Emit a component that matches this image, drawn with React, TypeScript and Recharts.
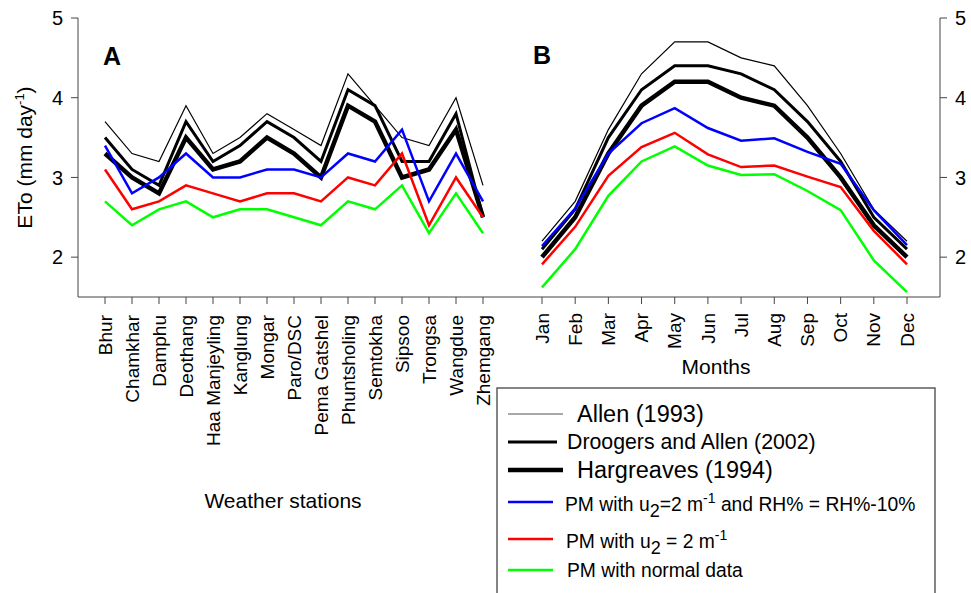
import React from 'react';
import { LineChart, Line, XAxis, YAxis } from 'recharts';

// Panel A - weather stations
const stations = [
    'Bhur', 'Chamkhar', 'Damphu', 'Deothang', 'Haa Manjeyling', 'Kanglung', 'Mongar', 'Paro/DSC',
    'Pema Gatshel', 'Phuntsholing', 'Semtokha', 'Sipsoo', 'Trongsa', 'Wangdue', 'Zhemgang'
];
const allenA = [3.7, 3.3, 3.2, 3.9, 3.3, 3.5, 3.8, 3.6, 3.4, 4.3, 3.9, 3.5, 3.4, 4.0, 2.9];
const droogersA = [3.5, 3.1, 2.9, 3.7, 3.2, 3.4, 3.7, 3.5, 3.2, 4.1, 3.9, 3.2, 3.2, 3.8, 2.5];
const hargreavesA = [3.3, 3.0, 2.8, 3.5, 3.1, 3.2, 3.5, 3.3, 3.0, 3.9, 3.7, 3.0, 3.1, 3.6, 2.5];
const pmRhA = [3.4, 2.8, 3.0, 3.3, 3.0, 3.0, 3.1, 3.1, 3.0, 3.3, 3.2, 3.6, 2.7, 3.3, 2.7];
const pmU2A = [3.1, 2.6, 2.7, 2.9, 2.8, 2.7, 2.8, 2.8, 2.7, 3.0, 2.9, 3.3, 2.4, 3.0, 2.5];
const pmNormalA = [2.7, 2.4, 2.6, 2.7, 2.5, 2.6, 2.6, 2.5, 2.4, 2.7, 2.6, 2.9, 2.3, 2.8, 2.3];

// Panel B - months
const months = ['Jan', 'Feb', 'Mar', 'Apr', 'May', 'Jun', 'Jul', 'Aug', 'Sep', 'Oct', 'Nov', 'Dec'];
const allenB = [2.2, 2.7, 3.6, 4.3, 4.7, 4.7, 4.5, 4.4, 3.9, 3.3, 2.6, 2.2];
const droogersB = [2.1, 2.6, 3.5, 4.1, 4.4, 4.4, 4.3, 4.1, 3.7, 3.2, 2.5, 2.1];
const hargreavesB = [2.0, 2.5, 3.3, 3.9, 4.2, 4.2, 4.0, 3.9, 3.5, 3.0, 2.4, 2.0];
const pmRhB = [2.14, 2.61, 3.3, 3.68, 3.87, 3.62, 3.46, 3.49, 3.32, 3.17, 2.59, 2.15];
const pmU2B = [1.91, 2.38, 3.02, 3.38, 3.56, 3.29, 3.13, 3.15, 3.01, 2.88, 2.33, 1.91];
const pmNormalB = [1.62, 2.1, 2.77, 3.2, 3.39, 3.15, 3.03, 3.04, 2.83, 2.59, 1.96, 1.56];

const yTicks = [2, 3, 4, 5];
const yDomain = [1.5, 5];

const series = [
    { key: 'allen', stroke: '#000000', width: 1.2 },
    { key: 'droogers', stroke: '#000000', width: 3 },
    { key: 'hargreaves', stroke: '#000000', width: 4.5 },
    { key: 'pmNormal', stroke: '#00ff00', width: 2.5 },
    { key: 'pmU2', stroke: '#ff0000', width: 2.5 },
    { key: 'pmRh', stroke: '#0000ff', width: 2.5 },
];

const dataA = stations.map((s, i) => ({
    name: s,
    allen: allenA[i],
    droogers: droogersA[i],
    hargreaves: hargreavesA[i],
    pmRh: pmRhA[i],
    pmU2: pmU2A[i],
    pmNormal: pmNormalA[i],
}));

const dataB = months.map((m, i) => ({
    name: m,
    allen: allenB[i],
    droogers: droogersB[i],
    hargreaves: hargreavesB[i],
    pmRh: pmRhB[i],
    pmU2: pmU2B[i],
    pmNormal: pmNormalB[i],
}));

const FONT = 'Arial, "Liberation Sans", sans-serif';
const AXIS = '#444';

const RotatedTick = ({ x, y, payload }: any) => (
    <text
        transform={`translate(${x},${y}) rotate(-90)`}
        textAnchor="end"
        dy="0.35em"
        fontSize={19}
        fontFamily={FONT}
        fill="#000"
    >
        {payload.value}
    </text>
);

const YLabel = ({ viewBox }: any) => {
    const cy = viewBox.y + viewBox.height / 2;
    return (
        <text
            transform={`translate(${viewBox.x + 32},${cy}) rotate(-90)`}
            textAnchor="middle"
            fontSize={21}
            fontFamily={FONT}
            fill="#000"
        >
            ETo (mm day<tspan dy={-8} fontSize={13}>-1</tspan><tspan dy={8}>)</tspan>
        </text>
    );
};

const XTitle = (text: string, dx: number) => ({ viewBox }: any) => (
    <text
        x={viewBox.x + viewBox.width / 2 + dx}
        y={viewBox.y + (text === 'Months' ? 77 : 211)}
        textAnchor="middle"
        fontSize={21}
        fontFamily={FONT}
        fill="#000"
    >
        {text}
    </text>
);

const tickStyle = { fontSize: 20, fontFamily: FONT, fill: '#000' };

const renderLines = (yAxisId: string) =>
    series.map(s => (
        <Line
            key={s.key}
            yAxisId={yAxisId}
            type="linear"
            dataKey={s.key}
            stroke={s.stroke}
            strokeWidth={s.width}
            dot={false}
            activeDot={false}
            isAnimationActive={false}
        />
    ));

const legendItems = [
    { label: 'allen', stroke: '#555', width: 1.2, lineEnd: 73, y: 34, tx: 87, ty: 42, size: 23.5 },
    { label: 'droogers', stroke: '#000', width: 3, lineEnd: 67, y: 62, tx: 77, ty: 69, size: 21.3 },
    { label: 'hargreaves', stroke: '#000', width: 4.5, lineEnd: 73, y: 90, tx: 87, ty: 98, size: 23.5 },
    { label: 'pmRh', stroke: '#0000ff', width: 2.5, lineEnd: 63, y: 122, tx: 75, ty: 131, size: 19.3 },
    { label: 'pmU2', stroke: '#ff0000', width: 2.5, lineEnd: 63, y: 159, tx: 76, ty: 168, size: 19.3 },
    { label: 'pmNormal', stroke: '#00ff00', width: 2.5, lineEnd: 63, y: 190, tx: 77, ty: 197, size: 19.3 },
];

const legendText = (label: string) => {
    switch (label) {
        case 'allen':
            return 'Allen (1993)';
        case 'droogers':
            return 'Droogers and Allen (2002)';
        case 'hargreaves':
            return 'Hargreaves (1994)';
        case 'pmRh':
            return (
                <>
                    PM with u<tspan dy={6} fontSize={18}>2</tspan>
                    <tspan dy={-6}>=2 m</tspan>
                    <tspan dy={-8} fontSize={14}>-1</tspan>
                    <tspan dy={8}> and RH% = RH%-10%</tspan>
                </>
            );
        case 'pmU2':
            return (
                <>
                    PM with u<tspan dy={6} fontSize={18}>2</tspan>
                    <tspan dy={-6}> = 2 m</tspan>
                    <tspan dy={-8} fontSize={14}>-1</tspan>
                </>
            );
        default:
            return 'PM with normal data';
    }
};

const LegendBox = () => (
    <svg width={460} height={213} style={{ position: 'absolute', left: 490, top: 380 }}>
        <rect x={7} y={8} width={438} height={300} fill="#fff" stroke={AXIS} strokeWidth={1.3} />
        {legendItems.map(it => (
            <g key={it.label}>
                <line x1={18} x2={it.lineEnd} y1={it.y} y2={it.y} stroke={it.stroke} strokeWidth={it.width} />
                <text x={it.tx} y={it.ty} fontSize={it.size} fontFamily={FONT} fill="#000">
                    {legendText(it.label)}
                </text>
            </g>
        ))}
    </svg>
);

const panelLetter = (letter: string, left: number, top: number) => (
    <div
        style={{
            position: 'absolute', left, top, fontFamily: FONT, fontWeight: 'bold', fontSize: 25, lineHeight: '25px'
        }}
    >
        {letter}
    </div>
);

export default function App() {
    return (
        <div style={{ position: 'absolute', left: 0, top: 0, width: 971, height: 593, background: '#fff', overflow: 'hidden' }}>
            <div style={{ position: 'absolute', left: 0, top: 0 }}>
                <LineChart width={520} height={530} data={dataA} margin={{ top: 18, right: 10, left: 0, bottom: 0 }}>
                    <XAxis
                        dataKey="name"
                        interval={0}
                        padding={{ left: 27, right: 27 }}
                        height={233}
                        tickSize={7}
                        tickMargin={11}
                        stroke={AXIS}
                        tick={<RotatedTick />}
                        label={XTitle('Weather stations', -11)}
                    />
                    <XAxis xAxisId="top" dataKey="name" orientation="top" height={0} tick={false} tickLine={false} stroke={AXIS} />
                    <YAxis
                        yAxisId="l"
                        domain={yDomain}
                        ticks={yTicks}
                        width={78}
                        tickSize={7}
                        tickMargin={8}
                        stroke={AXIS}
                        tick={tickStyle}
                        allowDataOverflow
                        label={<YLabel />}
                    />
                    <YAxis yAxisId="r" orientation="right" domain={yDomain} width={0} tick={false} tickLine={false} stroke={AXIS} />
                    {renderLines('l')}
                </LineChart>
            </div>
            <div style={{ position: 'absolute', left: 510, top: 0 }}>
                <LineChart width={461} height={530} data={dataB} margin={{ top: 18, right: 0, left: 0, bottom: 0 }}>
                    <XAxis
                        dataKey="name"
                        interval={0}
                        padding={{ left: 32, right: 33 }}
                        height={233}
                        tickSize={7}
                        tickMargin={9}
                        stroke={AXIS}
                        tick={<RotatedTick />}
                        label={XTitle('Months', -9)}
                    />
                    <XAxis xAxisId="top" dataKey="name" orientation="top" height={0} tick={false} tickLine={false} stroke={AXIS} />
                    <YAxis yAxisId="l" domain={yDomain} width={0} tick={false} tickLine={false} axisLine={false} />
                    <YAxis
                        yAxisId="r"
                        orientation="right"
                        domain={yDomain}
                        ticks={yTicks}
                        width={31}
                        tickSize={7}
                        tickMargin={8}
                        stroke={AXIS}
                        tick={tickStyle}
                        allowDataOverflow
                    />
                    {renderLines('r')}
                </LineChart>
            </div>
            {panelLetter('A', 103, 44)}
            {panelLetter('B', 533, 43)}
            <LegendBox />
        </div>
    );
}
